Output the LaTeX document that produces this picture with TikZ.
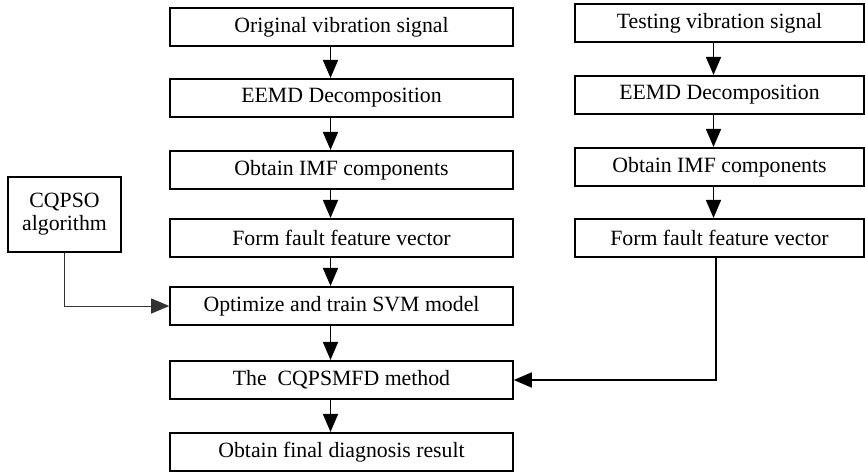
\documentclass[tikz,border=0pt]{standalone}
\usepackage{fontspec}
\setmainfont{Liberation Serif}
\usetikzlibrary{arrows.meta}
\tikzset{
  caja/.style={draw, line width=0.9pt, inner sep=0pt, minimum height=0.77cm,
    font=\fontsize{12.4}{15}\selectfont},
  cajaizq/.style={caja, minimum width=6.86cm},
  cajader/.style={caja, minimum width=5.78cm},
  flecha/.style={line width=0.9pt, -{Triangle[length=0.36cm, width=0.3cm]}}
}
\begin{document}
\begin{tikzpicture}[x=0.02cm, y=-0.02cm]
            \useasboundingbox (0,0) rectangle (865,473);
            % Columna de entrenamiento
            \node[cajaizq] (o1) at (341.5,27) {Original vibration signal};
            \node[cajaizq] (o2) at (341.5,98) {EEMD Decomposition};
            \node[cajaizq] (o3) at (341.5,170) {Obtain IMF components};
            \node[cajaizq] (o4) at (341.5,238) {Form fault feature vector};
            \node[cajaizq] (o5) at (341.5,306) {Optimize and train SVM model};
            \node[cajaizq] (o6) at (341.5,380) {The\ \ CQPSMFD method};
            \node[cajaizq] (o7) at (341.5,452) {Obtain final diagnosis result};
            % Columna de prueba
            \node[cajader] (t1) at (719.5,23) {Testing vibration signal};
            \node[cajader] (t2) at (719.5,95) {EEMD Decomposition};
            \node[cajader] (t3) at (719.5,167) {Obtain IMF components};
            \node[cajader] (t4) at (719.5,238) {Form fault feature vector};
            % Algoritmo de optimizacion
            \node[caja, minimum width=2.26cm, minimum height=1.5cm, align=center] (cq) at (64.5,214.5) {CQPSO\\[-2pt]algorithm};
            % Flechas verticales
            \foreach \a/\b in {o1/o2, o2/o3, o3/o4, o4/o5, o5/o6, o6/o7}
              \draw[flecha] ([xshift=-0.22cm]\a.south) -- ([xshift=-0.22cm]\b.north);
            \foreach \a/\b in {t1/t2, t2/t3, t3/t4}
              \draw[flecha] ([xshift=-0.12cm]\a.south) -- ([xshift=-0.12cm]\b.north);
            % Conexiones laterales
            \draw[flecha, line width=0.5pt, black!80] (cq.south) |- (o5.west);
            \draw[flecha] ([xshift=-0.07cm]t4.south) |- (o6.east);
        \end{tikzpicture}
\end{document}
